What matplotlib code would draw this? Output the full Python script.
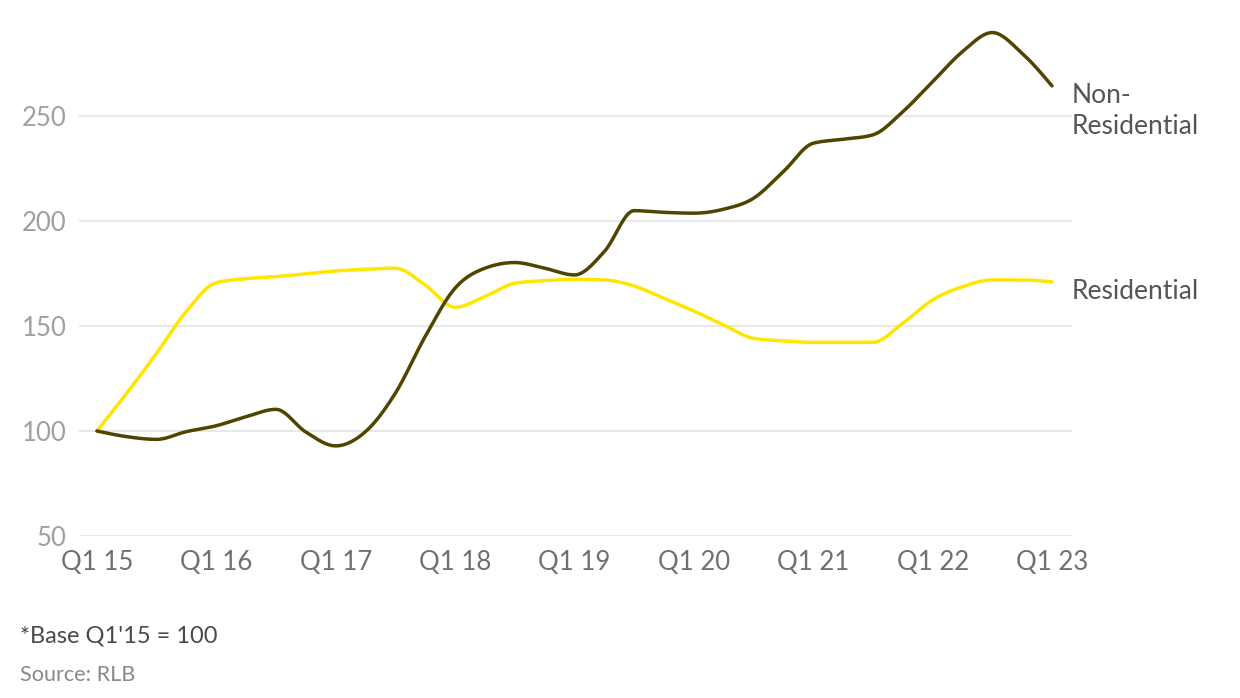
import numpy as np
import matplotlib.pyplot as plt

plt.rcParams['font.family'] = ['Lato', 'DejaVu Sans']

# quarterly index values, Q1 15 .. Q1 23
quarters = np.arange(33)
residential = [100, 118, 137, 157, 170.6, 172.5, 173.5, 174.8, 176.2, 177, 177.5,
               169.5, 158.9, 164, 170.3, 171.6, 172.2, 171.9, 169, 163.2, 157.1,
               150.5, 144.1, 142.9, 142.2, 142.2, 142.2, 151.3, 162.4, 168.7,
               171.9, 171.9, 171]
non_residential = [100, 97.3, 96, 99.7, 102.5, 106.8, 110.3, 99.5, 92.9, 99.7, 118,
                   145, 168, 177.5, 180.2, 177.5, 174.3, 185.4, 204.9, 204.1, 203.7,
                   205.6, 210.8, 223.5, 237, 238.9, 241, 252, 266.3, 280.6, 289.7,
                   279.8, 264.3]
tick_pos = [0, 4, 8, 12, 16, 20, 24, 28, 32]
tick_labels = ["Q1 15", "Q1 16", "Q1 17", "Q1 18", "Q1 19", "Q1 20", "Q1 21", "Q1 22", "Q1 23"]
y_ticks = [50, 100, 150, 200, 250]

YELLOW = "#ffe600"
OLIVE = "#4f4500"


def monotone(x, y, n=20):
    # monotone cubic (d3 curveMonotoneX style) for drawing
    x = np.asarray(x, float)
    y = np.asarray(y, float)
    h = np.diff(x)
    s = np.diff(y) / h
    t = np.zeros_like(y)
    for i in range(1, len(y) - 1):
        p = (s[i - 1] * h[i] + s[i] * h[i - 1]) / (h[i - 1] + h[i])
        t[i] = (np.sign(s[i - 1]) + np.sign(s[i])) * min(abs(s[i - 1]), abs(s[i]), 0.5 * abs(p))
    t[0] = (3 * s[0] - t[1]) / 2 if len(y) > 2 else s[0]
    t[-1] = (3 * s[-1] - t[-2]) / 2 if len(y) > 2 else s[-1]
    xs, ys = [], []
    for i in range(len(h)):
        u = np.linspace(0, 1, n, endpoint=False)
        h00 = 2 * u**3 - 3 * u**2 + 1
        h10 = u**3 - 2 * u**2 + u
        h01 = -2 * u**3 + 3 * u**2
        h11 = u**3 - u**2
        xs.append(x[i] + u * h[i])
        ys.append(h00 * y[i] + h10 * h[i] * t[i] + h01 * y[i + 1] + h11 * h[i] * t[i + 1])
    xs.append([x[-1]])
    ys.append([y[-1]])
    return np.concatenate(xs), np.concatenate(ys)


fig = plt.figure(figsize=(12.4, 6.98), dpi=100)
ax = fig.add_axes([0.0637, 0.2321, 0.8008, 0.7393])

xr, yr = monotone(quarters, residential)
ax.plot(xr, yr, color=YELLOW, lw=2.5, solid_capstyle='round', zorder=3)
xn, yn = monotone(quarters, non_residential)
ax.plot(xn, yn, color=OLIVE, lw=2.5, solid_capstyle='round', zorder=4)

ax.set_xlim(-0.6, 32.67)
ax.set_ylim(50, 295.7)
ax.set_yticks(y_ticks)
ax.set_xticks(tick_pos)
ax.set_xticklabels(tick_labels)
for v in y_ticks:
    ax.axhline(v, color="#e2e2e2", lw=1.1, zorder=1)
for s in ax.spines.values():
    s.set_visible(False)
ax.tick_params(axis='y', length=0, pad=9, labelsize=18.5, labelcolor="#a0a0a0")
ax.tick_params(axis='x', length=0, pad=10, labelsize=18.5, labelcolor="#707070")

ax.text(32.67, 252.5, "Non-\nResidential", fontsize=19, color="#555555",
        ha='left', va='center', linespacing=1.3)
ax.text(32.67, 166.5, "Residential", fontsize=19, color="#555555",
        ha='left', va='center')

fig.text(20 / 1240, 1 - 636 / 698, "*Base Q1'15 = 100", fontsize=17, color="#4a4a4a",
         ha='left', va='center')
fig.text(20 / 1240, 1 - 675 / 698, "Source: RLB", fontsize=15.6, color="#8a8a8a",
         ha='left', va='center')

fig.savefig("out.png", dpi=100)
